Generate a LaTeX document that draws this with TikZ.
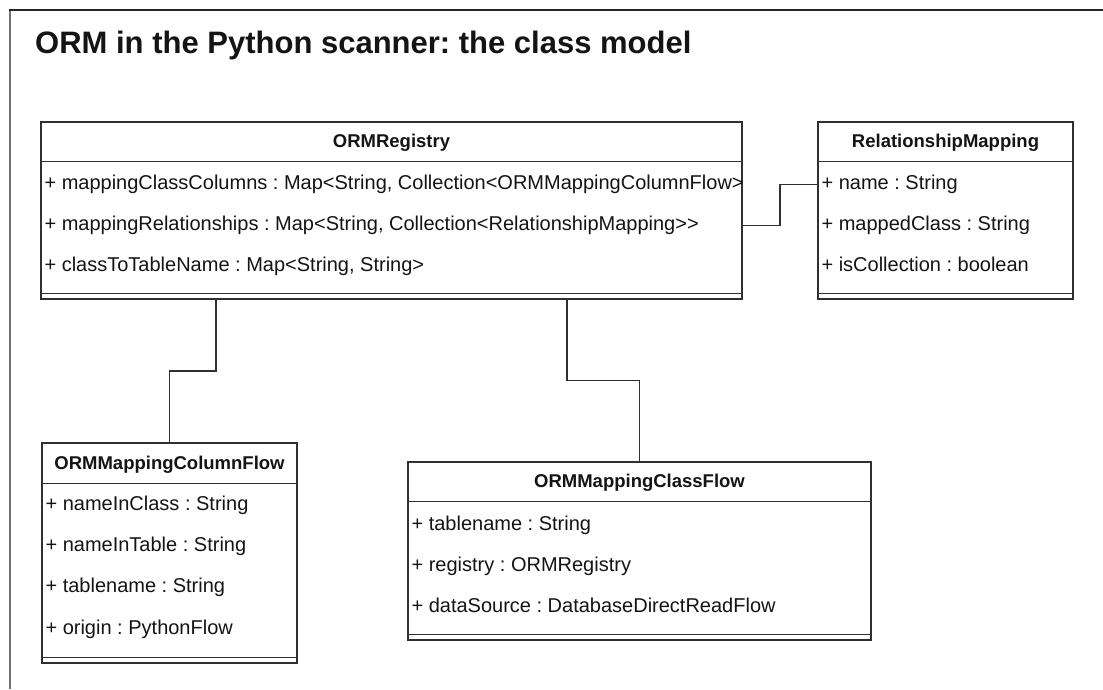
\documentclass[tikz,border=0pt]{standalone}
\usepackage{fontspec}
\setmainfont{Liberation Sans}[Ligatures=ResetAll]
\usetikzlibrary{calc}
\definecolor{edge}{HTML}{303030}
\definecolor{ink}{HTML}{141414}
\definecolor{framegray}{HTML}{707070}
\frenchspacing

\begin{document}
\begin{tikzpicture}[x=1pt,y=-1pt,
  umlbox/.style={draw=edge, line width=1.3pt, rectangle, inner sep=0pt, fill=white},
  rule/.style={draw=edge, line width=1.3pt},
  hdr/.style={font=\fontsize{18.5}{22}\selectfont\bfseries, text=ink, inner sep=0pt,
              text height=13.3pt, text depth=3.9pt},
  attr/.style={font=\fontsize{20}{24}\selectfont, text=ink, inner sep=0pt, anchor=west,
               text height=14.3pt, text depth=4.2pt},
  link/.style={draw=edge, line width=1.3pt},
]
\useasboundingbox (0,0) rectangle (1103,689);
\fill[white] (0,0) rectangle (1103,689);

% outer frame
\draw[framegray, line width=2pt] (10,689) -- (10,10);
\draw[black!85, line width=2pt] (9,10) -- (1103,10);

% title
\node[font=\fontsize{31}{37}\selectfont\bfseries, text=ink, inner sep=0pt, anchor=base west]
  (title) at (35,53) {ORM in the Python scanner: the class model};

% ORMRegistry
\node[umlbox, minimum width=701pt, minimum height=177pt] (reg) at (391.5,210.5) {};
\draw[rule] ($(reg.north west)+(0,40)$) -- ($(reg.north east)+(0,40)$);
\draw[rule] ($(reg.south west)+(0,-6)$) -- ($(reg.south east)+(0,-6)$);
\node[hdr] (regH) at ($(reg.north)+(0,21)$) {ORMRegistry};
\node[attr] (reg1) at ($(reg.north west)+(4,63)$) {+ mappingClassColumns : Map<String, Collection<ORMMappingColumnFlow>};
\node[attr] (reg2) at ($(reg.north west)+(4,104)$) {+ mappingRelationships : Map<String, Collection<RelationshipMapping>{}>};
\node[attr] (reg3) at ($(reg.north west)+(4,145)$) {+ classToTableName : Map<String, String>};

% RelationshipMapping
\node[umlbox, minimum width=255pt, minimum height=177pt] (rm) at (945.5,210.5) {};
\draw[rule] ($(rm.north west)+(0,40)$) -- ($(rm.north east)+(0,40)$);
\draw[rule] ($(rm.south west)+(0,-6)$) -- ($(rm.south east)+(0,-6)$);
\node[hdr] (rmH) at ($(rm.north)+(0,21)$) {RelationshipMapping};
\node[attr] (rm1) at ($(rm.north west)+(4,63)$) {+ name : String};
\node[attr] (rm2) at ($(rm.north west)+(4,104)$) {+ mappedClass : String};
\node[attr] (rm3) at ($(rm.north west)+(4,145)$) {+ isCollection : boolean};

% ORMMappingColumnFlow
\node[umlbox, minimum width=255pt, minimum height=220pt] (colf) at (169.5,553) {};
\draw[rule] ($(colf.north west)+(0,41)$) -- ($(colf.north east)+(0,41)$);
\draw[rule] ($(colf.south west)+(0,-6)$) -- ($(colf.south east)+(0,-6)$);
\node[hdr] (colfH) at ($(colf.north)+(0,22)$) {ORMMappingColumnFlow};
\node[attr] (colf1) at ($(colf.north west)+(4,63)$) {+ nameInClass : String};
\node[attr] (colf2) at ($(colf.north west)+(4,104)$) {+ nameInTable : String};
\node[attr] (colf3) at ($(colf.north west)+(4,145)$) {+ tablename : String};
\node[attr] (colf4) at ($(colf.north west)+(4,187)$) {+ origin : PythonFlow};

% ORMMappingClassFlow
\node[umlbox, minimum width=463pt, minimum height=178pt] (clsf) at (639.5,551) {};
\draw[rule] ($(clsf.north west)+(0,40)$) -- ($(clsf.north east)+(0,40)$);
\draw[rule] ($(clsf.south west)+(0,-6)$) -- ($(clsf.south east)+(0,-6)$);
\node[hdr] (clsfH) at ($(clsf.north)+(0,21)$) {ORMMappingClassFlow};
\node[attr] (clsf1) at ($(clsf.north west)+(4,64)$) {+ tablename : String};
\node[attr] (clsf2) at ($(clsf.north west)+(4,105)$) {+ registry : ORMRegistry};
\node[attr] (clsf3) at ($(clsf.north west)+(4,146)$) {+ dataSource : DatabaseDirectReadFlow};

% associations
\coordinate (regL) at ($(reg.south west)!.25!(reg.south east)$);
\coordinate (regR) at ($(reg.south west)!.75!(reg.south east)$);
\draw[link] (regL) |- ($(regL)!.5!(colf.north)$) -| (colf.north);
\draw[link] (regR) |- ($(regR)!.5!(clsf.north)$) -| (clsf.north);
\draw[link] (reg.east |- reg2) -| ($(reg.east)!.5!(rm.west)$) |- (rm.west |- rm1);
\end{tikzpicture}
\end{document}
